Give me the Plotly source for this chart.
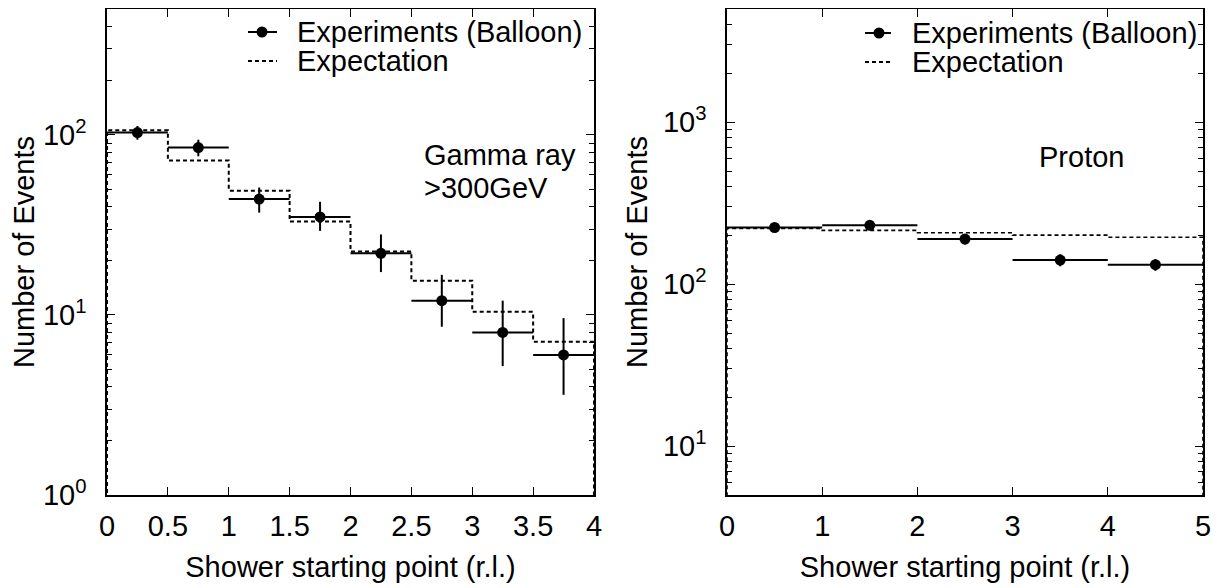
import plotly.graph_objects as go

# ---- data ----
gamma_edges = [0, 0.5, 1, 1.5, 2, 2.5, 3, 3.5, 4]
gamma_tick_text = ["0", "0.5", "1", "1.5", "2", "2.5", "3", "3.5", "4"]
gamma_obs = [103, 85, 44, 35, 22, 12, 8, 6]
gamma_err_up = [9, 9, 7, 7.5, 6, 4.7, 4, 3.6]
gamma_err_dn = [9, 9, 7, 5.7, 4.7, 3.4, 2.8, 2.4]
gamma_exp = [106, 72, 49, 33, 22.5, 15.5, 10.4, 7.1]

proton_edges = [0, 1, 2, 3, 4, 5]
proton_tick_text = ["0", "1", "2", "3", "4", "5"]
proton_obs = [224, 231, 190, 141, 132]
proton_err = [15, 15, 14, 12, 11]
proton_exp = [221, 215, 208, 201, 195]

left_ytick_vals = [1, 10, 100]
left_ytick_text = ["10<sup>0</sup>", "10<sup>1</sup>", "10<sup>2</sup>"]
right_ytick_vals = [10, 100, 1000]
right_ytick_text = ["10<sup>1</sup>", "10<sup>2</sup>", "10<sup>3</sup>"]

FONT = "Liberation Sans, Arial, Helvetica, sans-serif"
FS = 29
OFF = 8  # the page body adds an 8px margin
W, H = 1231 - OFF, 588 - OFF


def centers(edges):
    return [(a + b) / 2 for a, b in zip(edges[:-1], edges[1:])]


def halfw(edges):
    return [(b - a) / 2 for a, b in zip(edges[:-1], edges[1:])]


def step_xy(edges, vals, floor):
    x = [edges[0]] + list(edges[:-1]) + [edges[-1]]
    y = [floor] + list(vals) + [floor]
    return x, y


def minor_vals(lo_dec, hi_dec, top):
    out = []
    for d in range(lo_dec, hi_dec + 1):
        for m in range(2, 10):
            v = m * 10 ** d
            if v <= top:
                out.append(v)
    return out


fig = go.Figure()

# left panel: gamma
gx, gy = step_xy(gamma_edges, gamma_exp, 0.1)
fig.add_trace(go.Scatter(x=gx, y=gy, mode="lines", line_shape="hv",
                         line=dict(color="black", width=2, dash="4px,3px"),
                         showlegend=False, xaxis="x", yaxis="y"))
fig.add_trace(go.Scatter(
    x=centers(gamma_edges), y=gamma_obs, mode="markers",
    marker=dict(color="black", size=11),
    error_x=dict(type="data", array=halfw(gamma_edges), color="black", thickness=2, width=0),
    error_y=dict(type="data", array=gamma_err_up, arrayminus=gamma_err_dn,
                 color="black", thickness=2, width=0),
    showlegend=False, xaxis="x", yaxis="y"))

# right panel: proton
px_, py_ = step_xy(proton_edges, proton_exp, 1)
fig.add_trace(go.Scatter(x=px_, y=py_, mode="lines", line_shape="hv",
                         line=dict(color="black", width=1.6, dash="4px,3px"),
                         showlegend=False, xaxis="x2", yaxis="y2"))
fig.add_trace(go.Scatter(
    x=centers(proton_edges), y=proton_obs, mode="markers",
    marker=dict(color="black", size=11),
    error_x=dict(type="data", array=halfw(proton_edges), color="black", thickness=2, width=0),
    error_y=dict(type="data", array=proton_err, color="black", thickness=2, width=0),
    showlegend=False, xaxis="x2", yaxis="y2"))

# plot-area positions in screen pixels (reference), converted to figure pixels
L1, R1 = 107 - OFF, 594 - OFF
L2, R2 = 727 - OFF, 1203 - OFF
T, B = 9 - OFF, 495 - OFF

common_x = dict(showline=True, linecolor="black", linewidth=1.5, mirror="allticks",
                ticks="inside", ticklen=8, tickwidth=1.3, tickcolor="black",
                showgrid=False, zeroline=False, automargin=False,
                tickfont=dict(family=FONT, size=FS, color="black"),
                ticklabelstandoff=4,
                title=dict(text="Shower starting point (r.l.)",
                           font=dict(family=FONT, size=FS, color="black"), standoff=16))
common_y = dict(type="log", showline=True, linecolor="black", linewidth=1.5, mirror="allticks",
                ticks="inside", ticklen=8, tickwidth=1.3, tickcolor="black",
                showgrid=False, zeroline=False, automargin=False,
                tickfont=dict(family=FONT, size=FS, color="black"),
                ticklabelstandoff=13,
                title=dict(text="Number of Events",
                           font=dict(family=FONT, size=FS, color="black"), standoff=7))

fig.update_layout(
    width=W, height=H,
    margin=dict(l=0, r=0, t=0, b=0, autoexpand=False),
    paper_bgcolor="white", plot_bgcolor="white",
    font=dict(family=FONT, size=FS, color="black"),
    xaxis=dict(common_x, domain=[L1 / W, R1 / W], range=[0, 4], anchor="y",
               tickmode="array", tickvals=gamma_edges, ticktext=gamma_tick_text),
    yaxis=dict(common_y, domain=[1 - B / H, 1 - T / H], range=[0, 2.69897], anchor="x",
               tickmode="array", tickvals=left_ytick_vals, ticktext=left_ytick_text,
               minor=dict(ticks="inside", ticklen=5, tickwidth=1.2, tickcolor="black",
                          tickmode="array", tickvals=minor_vals(0, 2, 500))),
    xaxis2=dict(common_x, domain=[L2 / W, R2 / W], range=[0, 5], anchor="y2",
                tickmode="array", tickvals=proton_edges, ticktext=proton_tick_text),
    yaxis2=dict(common_y, domain=[1 - B / H, 1 - T / H], range=[0.69897, 3.69897], anchor="x2",
                tickmode="array", tickvals=right_ytick_vals, ticktext=right_ytick_text,
                minor=dict(ticks="inside", ticklen=5, tickwidth=1.2, tickcolor="black",
                           tickmode="array", tickvals=minor_vals(0, 3, 5000))),
)


def dx(px, L, R):
    return (px - OFF - L) / (R - L)


def dy(py):
    return (B - (py - OFF)) / (B - T)


# manual legends
def add_legend(xr, yr, sx0, sx1, dotx, tx, y1, y2):
    fig.add_shape(type="line", xref=xr, yref=yr, x0=sx0, x1=sx1, y0=y1, y1=y1,
                  line=dict(color="black", width=2))
    fig.add_shape(type="circle", xref=xr, yref=yr, xsizemode="pixel", ysizemode="pixel",
                  xanchor=dotx, yanchor=y1, x0=-5.5, x1=5.5, y0=-5.5, y1=5.5,
                  fillcolor="black", line=dict(color="black", width=0))
    fig.add_shape(type="line", xref=xr, yref=yr, x0=sx0, x1=sx1, y0=y2, y1=y2,
                  line=dict(color="black", width=2, dash="4px,3px"))
    fig.add_annotation(xref=xr, yref=yr, x=tx, y=y1, text="Experiments (Balloon)",
                       showarrow=False, xanchor="left", yanchor="middle",
                       font=dict(family=FONT, size=FS, color="black"))
    fig.add_annotation(xref=xr, yref=yr, x=tx, y=y2, text="Expectation",
                       showarrow=False, xanchor="left", yanchor="middle",
                       font=dict(family=FONT, size=FS, color="black"))


add_legend("x domain", "y domain", dx(248, L1, R1), dx(277, L1, R1), dx(262, L1, R1),
           dx(295, L1, R1), dy(32), dy(61))
add_legend("x2 domain", "y2 domain", dx(865, L2, R2), dx(891, L2, R2), dx(879, L2, R2),
           dx(910, L2, R2), dy(33), dy(62))

fig.add_annotation(xref="x domain", yref="y domain", x=dx(422, L1, R1), y=dy(155),
                   text="Gamma ray", showarrow=False, xanchor="left", yanchor="middle",
                   font=dict(family=FONT, size=FS, color="black"))
fig.add_annotation(xref="x domain", yref="y domain", x=dx(422, L1, R1), y=dy(188),
                   text="&gt;300GeV", showarrow=False, xanchor="left", yanchor="middle",
                   font=dict(family=FONT, size=FS, color="black"))
fig.add_annotation(xref="x2 domain", yref="y2 domain", x=dx(1037, L2, R2), y=dy(157),
                   text="Proton", showarrow=False, xanchor="left", yanchor="middle",
                   font=dict(family=FONT, size=FS, color="black"))

fig.write_html("out.html")
